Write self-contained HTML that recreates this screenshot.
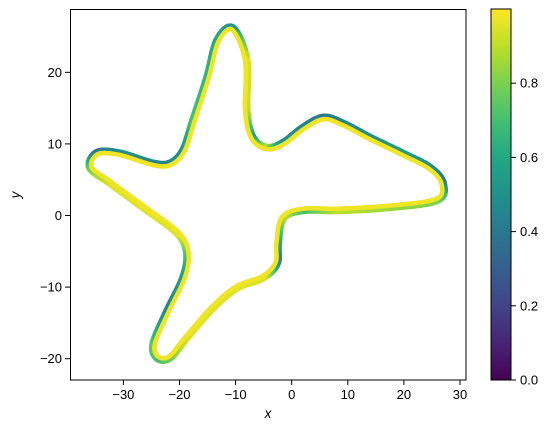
<!DOCTYPE html>
<html><head><meta charset="utf-8">
<style>
html,body{margin:0;padding:0;background:#fff;}
svg{display:block;font-family:"Liberation Sans","DejaVu Sans",sans-serif;}
</style></head>
<body>
<svg id="chart" width="551" height="432" viewBox="0 0 551 432" xmlns="http://www.w3.org/2000/svg">
<defs>
<linearGradient id="viridis" x1="0" y1="1" x2="0" y2="0">
<stop offset="0" stop-color="#440154"/><stop offset="0.1" stop-color="#482475"/>
<stop offset="0.2" stop-color="#414487"/><stop offset="0.3" stop-color="#355f8d"/>
<stop offset="0.4" stop-color="#2a788e"/><stop offset="0.5" stop-color="#21918c"/>
<stop offset="0.6" stop-color="#22a884"/><stop offset="0.7" stop-color="#44bf70"/>
<stop offset="0.8" stop-color="#7ad151"/><stop offset="0.9" stop-color="#bddf26"/>
<stop offset="1" stop-color="#fde725"/>
</linearGradient>
<clipPath id="plotclip"><rect x="70" y="9" width="396" height="371"/></clipPath>
</defs>
<g id="marks" clip-path="url(#plotclip)"></g>
<rect x="70.5" y="9.5" width="395.5" height="370.5" fill="none" stroke="#000" stroke-width="1"/>
<g id="xticks"></g>
<g id="yticks"></g>
<text x="268" y="418" font-size="13.5" font-style="italic" text-anchor="middle">x</text>
<text x="0" y="0" font-size="13.5" font-style="italic" text-anchor="middle" transform="translate(20,195) rotate(-90)">y</text>
<rect x="491" y="9" width="20" height="371" fill="url(#viridis)" stroke="#000" stroke-width="1"/>
<g id="cticks"></g>
</svg>
<script>
// centerline of the band (data units, closed loop) and colour value of the outer edge
const xs=[-10.5,-8,-8,-6.9,-4.4,-1.5,2,5.6,9.1,14,19.8,24.7,27,25.9,17,8.1,2,-1.5,-2.4,-2.6,-5.1,-9.7,-14,-18.7,-21.7,-24,-24.7,-22.2,-19.4,-18.7,-20.4,-26.5,-32.4,-36,-34.7,-30.6,-24.7,-21.7,-19.4,-17.6,-15.1,-13.3];
const ys=[26.2,21.7,14.7,10.9,9.5,10.2,12.3,13.7,12.9,10.9,8.7,6.7,4.5,2.1,1.1,0.7,0.7,-0.4,-3.9,-6.7,-8.7,-10.1,-12.9,-17.1,-19.9,-19.9,-17.9,-13.3,-8.7,-5.3,-2.5,1.1,4.5,6.7,8.8,8.7,7.3,7.3,9.1,13.3,19.3,24.5];
const cs=[0.5,0.95,0.9,0.55,0.9,0.5,0.45,0.4,0.45,0.5,0.55,0.5,0.4,0.8,0.85,0.9,0.7,0.9,0.6,0.45,0.95,0.95,0.95,0.95,0.8,0.7,0.75,0.45,0.55,0.7,0.95,0.95,0.95,0.8,0.4,0.5,0.45,0.45,0.5,0.7,0.65,0.6];
const xTicks=[-30,-20,-10,0,10,20,30];
const yTicks=[-20,-10,0,10,20];
const cTicks=[0.0,0.2,0.4,0.6,0.8];

const NS="http://www.w3.org/2000/svg";
const sx=v=>291.7+v*5.61;
const sy=v=>215.5-v*7.16;
const sc=v=>380-v*371;
const vir=["#440154","#482475","#414487","#355f8d","#2a788e","#21918c","#22a884","#44bf70","#7ad151","#bddf26","#fde725"];
function hex(h){return [parseInt(h.substr(1,2),16),parseInt(h.substr(3,2),16),parseInt(h.substr(5,2),16)];}
function cmap(t){t=Math.max(0,Math.min(1,t))*10;const i=Math.min(9,Math.floor(t)),f=t-i;const a=hex(vir[i]),b=hex(vir[i+1]);
return "rgb("+a.map((v,k)=>Math.round(v+(b[k]-v)*f)).join(",")+")";}
function mk(tag,attrs,parent){const e=document.createElementNS(NS,tag);for(const k in attrs)e.setAttribute(k,attrs[k]);parent.appendChild(e);return e;}

const marks=document.getElementById('marks');
const n=xs.length;
const S=[];const SUB=8;
for(let i=0;i<n;i++){
  const i0=(i-1+n)%n,i2=(i+1)%n,i3=(i+2)%n;
  const p0=[sx(xs[i0]),sy(ys[i0])],p1=[sx(xs[i]),sy(ys[i])],p2=[sx(xs[i2]),sy(ys[i2])],p3=[sx(xs[i3]),sy(ys[i3])];
  for(let k=0;k<SUB;k++){
    const t=k/SUB,t2=t*t,t3=t2*t;
    const f=(a,b,c,d)=>0.5*((2*b)+(-a+c)*t+(2*a-5*b+4*c-d)*t2+(-a+3*b-3*c+d)*t3);
    S.push({x:f(p0[0],p1[0],p2[0],p3[0]),y:f(p0[1],p1[1],p2[1],p3[1]),c:cs[i]+(cs[i2]-cs[i])*t});
  }
}
const m0=S.length;
let A=0;for(let i=0;i<m0;i++){const p=S[i],q=S[(i+1)%m0];A+=p.x*q.y-q.x*p.y;}
const sgn=A>0?1:-1;
S.forEach((p,i)=>{
  const a=S[(i-1+m0)%m0],b=S[(i+1)%m0];
  let tx=b.x-a.x,ty=b.y-a.y;const L=Math.hypot(tx,ty)||1;
  p.nx=-ty/L*sgn;p.ny=tx/L*sgn;
});
S.push(S[0]);
const m=S.length;
for(let i=0;i<m-1;i++){
  const s=mk('line',{x1:S[i].x,y1:S[i].y,x2:S[i+1].x,y2:S[i+1].y,stroke:cmap(S[i].c),'stroke-width':7.5,'stroke-linecap':'round'},marks);
  
  
}
for(let i=0;i<m-1;i++){
  const o=1.8;
  const s=mk('line',{x1:S[i].x+S[i].nx*o,y1:S[i].y+S[i].ny*o,x2:S[i+1].x+S[i+1].nx*o,y2:S[i+1].y+S[i+1].ny*o,stroke:cmap(0.98),'stroke-width':4.5,'stroke-linecap':'round'},marks);
  
  
}

const xg=document.getElementById('xticks');
xTicks.forEach(v=>{
  const t=mk('line',{x1:sx(v),x2:sx(v),y1:380,y2:385,stroke:'#000','stroke-width':1},xg);
  
  
  const l=mk('text',{x:sx(v),y:399,'font-size':13,'text-anchor':'middle'},xg);
  l.textContent=(v<0?'\u2212':'')+Math.abs(v);
  
  
});
const yg=document.getElementById('yticks');
yTicks.forEach(v=>{
  const t=mk('line',{x1:65,x2:70,y1:sy(v),y2:sy(v),stroke:'#000','stroke-width':1},yg);
  
  
  const l=mk('text',{x:62,y:sy(v)+4.5,'font-size':13,'text-anchor':'end'},yg);
  l.textContent=(v<0?'\u2212':'')+Math.abs(v);
  
  
});
const cg=document.getElementById('cticks');
cTicks.forEach(v=>{
  const t=mk('line',{x1:511,x2:516,y1:sc(v),y2:sc(v),stroke:'#000','stroke-width':1},cg);
  
  
  const l=mk('text',{x:520,y:sc(v)+4.5,'font-size':13,'text-anchor':'start'},cg);
  l.textContent=v.toFixed(1);
  
  
});
</script>
</body></html>
